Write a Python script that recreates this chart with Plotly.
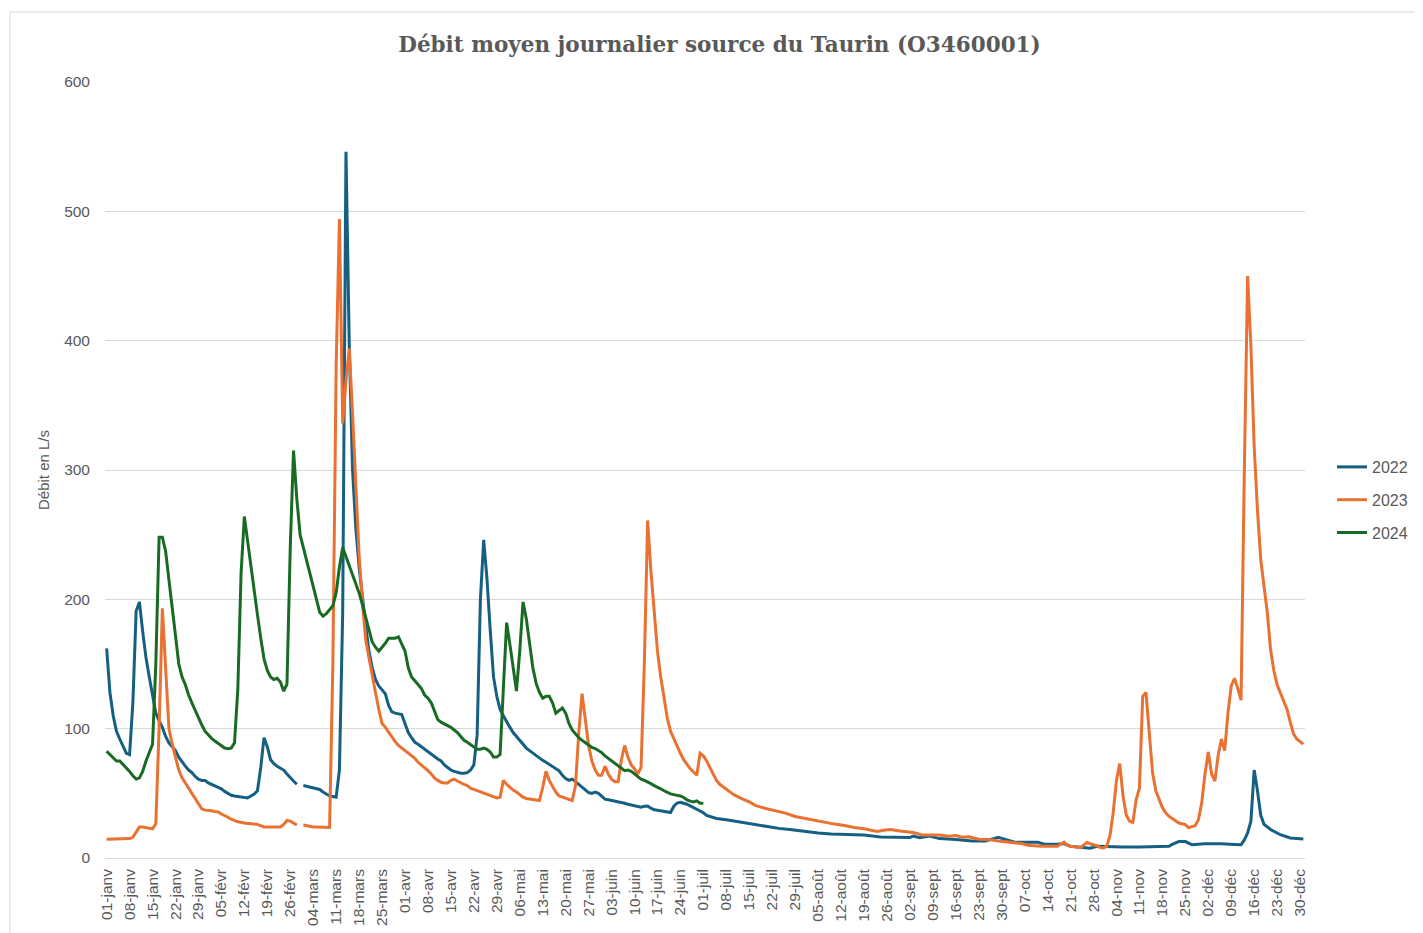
import plotly.graph_objects as go

# ---- Data (day index in a 366-day calendar: 0 = 01-janv, 59 = 29-févr, 365 = 31-déc) ----
tick_days = list(range(0, 365, 7))
tick_labels = [
    "01-janv", "08-janv", "15-janv", "22-janv", "29-janv", "05-févr", "12-févr", "19-févr", "26-févr",
    "04-mars", "11-mars", "18-mars", "25-mars", "01-avr", "08-avr", "15-avr", "22-avr", "29-avr",
    "06-mai", "13-mai", "20-mai", "27-mai", "03-juin", "10-juin", "17-juin", "24-juin",
    "01-juil", "08-juil", "15-juil", "22-juil", "29-juil", "05-août", "12-août", "19-août", "26-août",
    "02-sept", "09-sept", "16-sept", "23-sept", "30-sept", "07-oct", "14-oct", "21-oct", "28-oct",
    "04-nov", "11-nov", "18-nov", "25-nov", "02-déc", "09-déc", "16-déc", "23-déc", "30-déc",
]

jours_2022 = list(range(0, 187)) + [189, 193, 197, 201, 205, 209, 213, 217, 221, 226, 231, 236, 241, 245,
    246, 248, 251, 254, 259, 264, 268, 270, 272, 273, 275, 277, 284, 286, 290, 292, 294, 298, 300, 302,
    305, 310, 315, 320, 324, 325, 327, 329, 331, 335, 340, 344, 346, 347, 348, 349, 350, 351, 352, 353,
    355, 358, 361, 365]
debit_2022 = [
    162, 128, 110, 98, 92, 87, 81, 80, 120, 191, 198, 175, 155, 140, 125, 112, 106, 101, 94, 89,
    86, 83, 78, 74, 71, 68, 66, 63, 61, 60, 60, 58, 57, 55.5, 54.5, 53.5, 51.5, 50, 48.5, 48,
    47.5, 47, 46.5, 46.5, 48, 49.5, 52, 70, 93, 86, 76, 73, 71, 69.5, 68, 65, 62, 59.5, 57, None,
    56, 55.5, 55, 54, 53.5, 53, 51, 49.5, 48, 47.5, 47, 68, 190, 546, 397, 300, 255, 225, 200, 180,
    160, 147, 138, 133, 130, 127, 118, 113, 112, 111.5, 111, 104, 97, 93, 89.5, 88, 86, 84, 82, 80,
    78, 76.5, 75, 72, 70, 68, 67, 66, 65.5, 65.5, 66, 68, 72, 95, 200, 246, 216, 176, 140, 125,
    115, 110, 105, 101, 97, 94, 90.5, 88, 85, 83, 81, 79, 77, 75.5, 74, 72.5, 71, 69, 67.4, 64,
    61.5, 60, 61, 59, 57, 55, 53, 50.5, 50, 51, 50, 48, 45.5, 45, 44.5, 44.2, 43.6, 43, 42.3, 41.6,
    41, 40.3, 39.7, 39.3, 40, 40.2, 38.5, 37.3, 37, 36.5, 36, 35.5, 35.2, 40, 42.5, 43, 42.3, 41.6, 40.3, 39,
    38, 36.5, 35, 33, 32, 31, 30.5,
    29.6, 28, 26.2, 24.4, 22.9, 21.9, 20.6, 19.3, 18.6, 18.3, 17.7, 16.2, 15.8, 15.8,
    17, 15.6, 17, 15, 14.3, 13.2, 13.2, 14.5, 16, 15.2, 13.6, 12.2, 12.2, 10.6, 10.6, 11.2, 9.1, 8.2, 7.5, 9,
    8.7, 8.5, 8.5, 9, 9, 10.5, 12.7, 12.7, 10.3, 11.1, 11.1, 10.5, 10.3, 14, 19.4, 28.4, 68, 52, 33, 26,
    22, 18, 15.5, 14.7,
]

jours_2023 = list(range(0, 41)) + [42, 44, 46, 48, 53] + list(range(54, 195)) + [196, 198, 201, 204, 207,
    210, 213, 216, 219, 222, 225, 228, 231, 235, 237, 239, 242, 246, 249, 254, 257, 259, 261, 263, 266,
    269, 272, 275, 279, 281, 285, 290, 292, 293, 294, 297, 299, 300, 302, 303, 304] + list(range(305, 366))
debit_2023 = [
    14.5, 14.5, 14.5, 14.5, 14.5, 14.5, 14.5, 15, 16, 20, 24, 24, 23.5, 23, 22.5, 26.5, 100, 193, 150, 100,
    88, 77, 68, 62, 58, 54, 50, 45, 41, 38, 37, 37, 36.5, 36, 35.6, 34, 33, 31.5, 30, 29, 28,
    27, 26.5, 26, 24, 24,
    26, 29, 28.5, 27, 25.5, None, 25.5, 25, 24, 24, 24, 24, 24, 23.8, 23.6, 150, 380, 494, 336, 369,
    394, 344, 285, 234, 198, 169, 155, 140, 128, 115, 104, 101, 97, 94, 90, 87, 85, 83, 81, 78.5,
    77, 74, 72, 70, 67.5, 65, 62, 60, 58.5, 58, 58, 60, 61, 59.5, 58, 57, 56, 54, 53, 52,
    51, 50, 49, 48, 47, 46.5, 47, 60, 57, 54.5, 52.5, 51, 49, 47, 46, 45.5, 45, 44.5, 44.4, 54.5,
    67, 60, 55, 51, 48, 47, 46, 45.5, 44.5, 56, 97, 127, 107, 87, 75, 68, 64, 64, 71, 65,
    61, 59, 59, 76, 87, 78, 72, 69, 65, 70, 150, 261, 222, 190, 160, 140, 122, 108, 98, 92,
    86, 81, 76, 72, 69, 66.5, 64, 81, 79, 75, 70, 65, 60, 57, 55, 53, 51, 49.4, 48, 46.5, 45.5,
    43.4, 40.5, 38.3, 36.5, 34.7, 32.1, 30.6, 28.8, 27.5, 26.2, 25.2, 23.6, 22.6, 20.5, 21.5, 22, 20.8,
    19.7, 17.7, 17.7, 16.9, 17.4, 16.1, 16.4, 14.5, 14.3, 13.2, 12.5, 11.2, 9.9, 9.1, 9.1, 12.2, 10, 9.1,
    8, 12, 11, 9.5, 8, 7.8,
    9, 17, 35, 60, 73, 48, 33, 28.4, 27.6, 45, 54, 125, 128, 100, 66, 52, 46, 39, 35, 32.3,
    30.5, 29, 27, 26.5, 25.8, 23.5, 24, 25, 29.7, 42.6, 65, 82, 65, 59.4, 79, 92, 83, 112, 133, 139,
    131, 122, 300, 450, 396, 318, 269, 231, 210, 190, 161, 145, 134, 128, 122, 115, 105, 96, 92, 90,
    88,
]

jours_2024 = list(range(0, 183))
debit_2024 = [
    82.5, 80, 77, 75, 75, 72.5, 70, 67, 63.5, 61, 62, 67, 75, 82, 88, 150, 248, 248, 237, 215,
    195, 172, 150, 140, 134, 126, 120, 114, 108, 103, 98, 95, 92.5, 90.5, 88.5, 86.5, 85, 84.5, 85, 89,
    130, 220, 264, 245, 225, 205, 188, 170, 154, 145, 140, 138, 139, 136, 129, 134.5, 240, 315, 278, 250,
    240, 232, 222, 212, 200, 190, 187, 189, 192, 195, 205, 225, 240, 233, 227, 220, 213, 205, 196, 186,
    175, 167, 163, 160, 163, 166, 170, 170, 170, 171, 165, 160, 147, 140, 137, 134, 131, 126, 123.6, 120,
    114, 107, 105, 103.6, 102.5, 101, 99, 97, 94, 91, 89.5, 87.5, 85.5, 84, 84, 85, 84, 82, 78, 78,
    80, 130, 182, 165, 145, 129, 160, 198, 185, 165, 147, 135, 128, 123.6, 125, 125, 120, 112, 114, 116,
    112, 104, 99, 96, 93, 91, 89, 87, 85.5, 84.6, 83, 81.5, 79, 77, 75, 73.5, 71.5, 69.5, 67.5, 68,
    67, 65, 63, 61, 60, 59, 57.5, 56, 55, 53.5, 52, 50.6, 49.6, 49, 48.5, 48, 46.8, 45, 44, 43.4,
    44.2, 42.4, 42.4,
]

series = [
    ("2022", jours_2022, debit_2022, "#156082"),
    ("2023", jours_2023, debit_2023, "#E97132"),
    ("2024", jours_2024, debit_2024, "#196B24"),
]

GREY = "#595959"
OFF = 8  # page body margin in the browser
W, H = 1423 - OFF, 933 - OFF
L, T = 105 - OFF, 82 - OFF
PW, PH = 1200, 776
R, B = W - L - PW, H - T - PH

fig = go.Figure()
for name, x, y, color in series:
    fig.add_trace(go.Scatter(
        x=x, y=y, name=name, mode="lines", legendgroup=name,
        line=dict(color=color, width=3), connectgaps=False,
    ))

# light chart-area border (top/left visible in the frame)
fig.add_shape(type="rect", xref="paper", yref="paper",
              x0=(10 - OFF - L) / PW, x1=(W + 20 - L) / PW,
              y0=-(B + 20) / PH, y1=(T - (12 - OFF)) / PH + 1,
              line=dict(color="#d9d9d9", width=1), layer="below")

fig.update_layout(
    width=W, height=H,
    margin=dict(l=L, r=R, t=T, b=B, autoexpand=False),
    paper_bgcolor="white", plot_bgcolor="white",
    title=dict(text="Débit moyen journalier source du Taurin (O3460001)",
               x=(719.5 - OFF) / W, xanchor="center", xref="container",
               y=1 - (44 - OFF) / H, yanchor="middle", yref="container",
               font=dict(family="DejaVu Serif", size=21.5, color=GREY, weight="bold")),
    showlegend=True,
    legend=dict(x=(1332 - OFF - L) / PW, xanchor="left",
                y=(858 - 500) / PH, yanchor="middle",
                font=dict(family="Liberation Sans", size=16, color=GREY),
                tracegroupgap=9, bgcolor="rgba(0,0,0,0)"),
    font=dict(family="Liberation Sans", size=15, color=GREY),
)
fig.update_xaxes(
    range=[-0.5, 365.5], tickmode="array", tickvals=tick_days, ticktext=tick_labels,
    tickangle=-90, showgrid=False, zeroline=False, showline=False, ticks="",
    ticklabelstandoff=7, automargin=False,
    tickfont=dict(family="Liberation Sans", size=15.5, color=GREY),
)
fig.update_yaxes(
    range=[0, 600], dtick=100, showgrid=True, gridcolor="#d9d9d9", gridwidth=1,
    zeroline=True, zerolinecolor="#d9d9d9", zerolinewidth=1, showline=False, ticks="",
    ticklabelstandoff=14, automargin=False,
    tickfont=dict(family="Liberation Sans", size=15.5, color=GREY),
    title=dict(text="Débit en L/s", standoff=10,
               font=dict(family="Liberation Sans", size=15, color=GREY)),
)

fig.write_html("out.html")
